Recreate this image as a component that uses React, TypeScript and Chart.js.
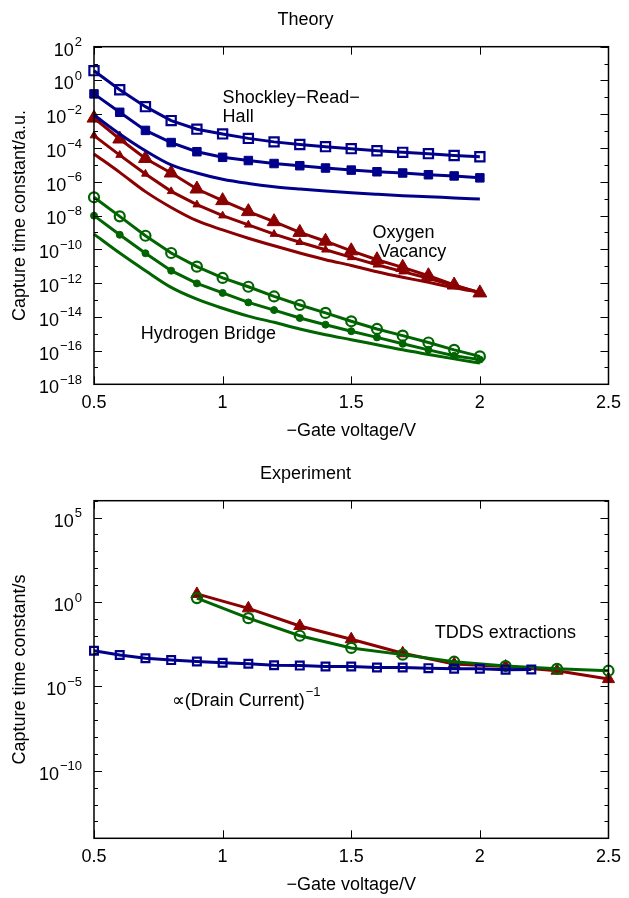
import React, { useEffect, useRef } from 'react';
import { Chart, registerables } from 'chart.js';

Chart.register(...registerables);

// ---------- data ----------
const theoryVolts = [0.5, 0.6, 0.7, 0.8, 0.9, 1.0, 1.1, 1.2, 1.3, 1.4, 1.5, 1.6, 1.7, 1.8, 1.9, 2.0];

// Shockley-Read-Hall
const srhOpen = [3.8e0, 2.8e-1, 2.8e-2, 4.2e-3, 1.3e-3, 6.8e-4, 3.7e-4, 2.3e-4, 1.6e-4, 1.2e-4, 9.1e-5, 6.9e-5, 5.5e-5, 4.6e-5, 3.6e-5, 3.0e-5];
const srhFilled = [1.6e-1, 1.3e-2, 1.1e-3, 2.1e-4, 6.0e-5, 2.8e-5, 1.8e-5, 1.2e-5, 8.9e-6, 6.5e-6, 4.9e-6, 3.9e-6, 3.3e-6, 2.6e-6, 2.2e-6, 1.7e-6];
const srhLine = [8.9e-3, 6.8e-4, 6.9e-5, 1.0e-5, 3.3e-6, 1.4e-6, 7.9e-7, 5.1e-7, 3.7e-7, 2.8e-7, 2.2e-7, 1.8e-7, 1.5e-7, 1.3e-7, 1.1e-7, 9.5e-8];

// Oxygen vacancy
const ovLarge = [5.9e-3, 3.4e-4, 2.4e-5, 3.3e-6, 3.7e-7, 7.6e-8, 1.7e-8, 4.3e-9, 1.0e-9, 3.0e-10, 8.1e-11, 2.4e-11, 8.5e-12, 2.7e-12, 7.6e-13, 2.6e-13];
const ovSmall = [5.4e-4, 3.8e-5, 2.9e-6, 2.7e-7, 4.4e-8, 9.8e-9, 2.8e-9, 7.9e-10, 2.6e-10, 9.3e-11, 3.3e-11, 1.2e-11, 4.7e-12, 1.9e-12, 6.9e-13, 2.8e-13];
const ovLine = [4.4e-5, 3.6e-6, 2.6e-7, 3.0e-8, 4.9e-9, 1.4e-9, 4.5e-10, 1.6e-10, 6.0e-11, 2.4e-11, 1.1e-11, 4.7e-12, 2.2e-12, 1.1e-12, 5.2e-13, 2.8e-13];

// Hydrogen bridge
const hbOpen = [1.2e-7, 8.9e-9, 6.3e-10, 6.0e-11, 9.3e-12, 2.0e-12, 6.0e-13, 1.6e-13, 5.0e-14, 1.7e-14, 5.4e-15, 1.9e-15, 7.6e-16, 3.0e-16, 1.1e-16, 4.5e-17];
const hbSmall = [9.8e-9, 7.2e-10, 5.8e-11, 5.4e-12, 9.5e-13, 2.6e-13, 7.1e-14, 2.5e-14, 8.5e-15, 3.4e-15, 1.4e-15, 6.0e-16, 2.5e-16, 1.1e-16, 4.9e-17, 2.9e-17];
const hbLine = [7.9e-10, 6.0e-11, 5.4e-12, 5.5e-13, 1.1e-13, 3.2e-14, 1.1e-14, 4.7e-15, 1.9e-15, 8.7e-16, 4.4e-16, 2.2e-16, 1.1e-16, 5.9e-17, 3.2e-17, 1.8e-17];

// Experiment
const drainVolts = [0.5, 0.6, 0.7, 0.8, 0.9, 1.0, 1.1, 1.2, 1.3, 1.4, 1.5, 1.6, 1.7, 1.8, 1.9, 2.0, 2.1, 2.2];
const drainInv = [1.3e-3, 7.2e-4, 4.6e-4, 3.6e-4, 3.0e-4, 2.5e-4, 2.2e-4, 1.8e-4, 1.7e-4, 1.5e-4, 1.5e-4, 1.3e-4, 1.3e-4, 1.2e-4, 1.1e-4, 1.1e-4, 9.8e-5, 1.0e-4];
const tddsVolts = [0.9, 1.1, 1.3, 1.5, 1.7, 1.9, 2.1, 2.3, 2.5];
const tddsGreen = [1.7e0, 1.1e-1, 1.0e-2, 1.9e-3, 7.6e-4, 2.9e-4, 1.6e-4, 1.1e-4, 8.5e-5];
const tddsRed = [3.0e0, 4.2e-1, 3.8e-2, 6.2e-3, 9.1e-4, 2.1e-4, 1.5e-4, 8.5e-5, 2.7e-5];

// ticks
const xTickValues = [0.5, 1, 1.5, 2, 2.5];
const theoryDecades = [-18, -17, -16, -15, -14, -13, -12, -11, -10, -9, -8, -7, -6, -5, -4, -3, -2, -1, 0, 1, 2];
const theoryLabelled = [-18, -16, -14, -12, -10, -8, -6, -4, -2, 0, 2];
const expDecades = [-14, -13, -12, -11, -10, -9, -8, -7, -6, -5, -4, -3, -2, -1, 0, 1, 2, 3, 4, 5, 6];
const expLabelled = [-10, -5, 0, 5];

// ---------- style ----------
const BLUE = '#00008b';
const RED = '#8b0000';
const GREEN = '#006400';
const FONT = "'Liberation Sans', Arial, Helvetica, sans-serif";
const NONE = 'rgba(0,0,0,0)';

const expText = (e: number) => String(e).replace('-', '−');
const pts = (xs: number[], ys: number[]) => ys.map((y, i) => ({ x: xs[i], y }));

// draws "base" with a raised exponent; align 'right' puts the right edge at x
function drawPowerText(ctx: any, base: string, sup: string, x: number, y: number, align: 'left' | 'right', supRaise: number) {
  ctx.font = `18px ${FONT}`;
  const w1 = ctx.measureText(base).width;
  ctx.font = `13px ${FONT}`;
  const w2 = ctx.measureText(sup).width;
  const x0 = align === 'right' ? x - w1 - w2 - 1 : x;
  ctx.textAlign = 'left';
  ctx.textBaseline = 'middle';
  ctx.font = `18px ${FONT}`;
  ctx.fillText(base, x0, y);
  ctx.font = `13px ${FONT}`;
  ctx.fillText(sup, x0 + w1 + 1, y - supRaise);
}

const frameTicks = {
  id: 'frameTicks',
  afterDraw(chart: any, _args: any, opts: any) {
    const { ctx, chartArea: a, scales } = chart;
    const xs = scales.x;
    const ys = scales.y;
    const labelled: number[] = opts.labelled || [];
    ctx.save();
    ctx.strokeStyle = '#000';
    ctx.lineWidth = 1;
    ctx.beginPath();
    for (const t of xs.ticks) {
      const px = Math.round(xs.getPixelForValue(t.value)) + 0.5;
      ctx.moveTo(px, a.bottom);
      ctx.lineTo(px, a.bottom - 8);
      ctx.moveTo(px, a.top);
      ctx.lineTo(px, a.top + 8);
    }
    for (const t of ys.ticks) {
      const py = Math.round(ys.getPixelForValue(t.value)) + 0.5;
      const e = Math.round(Math.log10(t.value));
      const len = labelled.includes(e) ? 8 : 4;
      ctx.moveTo(a.left, py);
      ctx.lineTo(a.left + len, py);
      ctx.moveTo(a.right, py);
      ctx.lineTo(a.right - len, py);
    }
    ctx.stroke();
    ctx.lineWidth = 1.5;
    ctx.strokeRect(a.left, a.top, a.right - a.left, a.bottom - a.top);

    ctx.fillStyle = '#000';
    // y tick labels: 10 with superscript exponent
    for (const t of ys.ticks) {
      const e = Math.round(Math.log10(t.value));
      if (!labelled.includes(e)) continue;
      const py = ys.getPixelForValue(t.value);
      drawPowerText(ctx, '10', expText(e), a.left - 12, py + 4, 'right', 8);
    }
    // annotations
    for (const n of opts.notes || []) {
      const px = xs.getPixelForValue(n.x);
      const py = ys.getPixelForValue(n.y);
      if (n.sup) {
        drawPowerText(ctx, n.text, n.sup, px, py, 'left', 9);
      } else {
        ctx.font = `18px ${FONT}`;
        ctx.textBaseline = 'middle';
        ctx.textAlign = 'left';
        ctx.fillText(n.text, px, py);
      }
    }
    ctx.restore();
  },
};

function lineSet(xs: number[], ys: number[], color: string, extra: any = {}) {
  return {
    data: pts(xs, ys),
    borderColor: color,
    backgroundColor: color,
    borderWidth: 3,
    pointRadius: 0,
    pointBorderColor: color,
    pointBackgroundColor: color,
    clip: false,
    ...extra,
  };
}

function buildConfig(p: any) {
  const font = { family: FONT, size: 18, weight: 'normal' as const };
  return {
    type: 'line',
    data: { datasets: p.datasets },
    plugins: [frameTicks],
    options: {
      animation: false,
      responsive: false,
      events: [],
      layout: { padding: { left: 0, right: 18, top: 0, bottom: 0 } },
      plugins: {
        legend: { display: false },
        tooltip: { enabled: false },
        title: { display: true, text: p.title, color: '#000', font, padding: { top: 9, bottom: 16.1 } },
        frameTicks: { notes: p.notes, labelled: p.labelled },
      },
      scales: {
        x: {
          type: 'linear',
          min: 0.5,
          max: 2.5,
          afterBuildTicks: (s: any) => {
            s.ticks = xTickValues.map((v) => ({ value: v }));
          },
          afterFit: (s: any) => {
            s.height = p.xAxisHeight;
          },
          ticks: { color: '#000', font, padding: 8, autoSkip: false, maxRotation: 0, callback: (v: number) => String(v) },
          grid: { display: false, drawTicks: false },
          border: { display: false },
          title: { display: true, text: '−Gate voltage/V', color: '#000', font, padding: { top: 0, bottom: p.xTitlePad } },
        },
        y: {
          type: 'logarithmic',
          min: p.yMin,
          max: p.yMax,
          afterBuildTicks: (s: any) => {
            s.ticks = p.decades.map((e: number) => ({ value: Math.pow(10, e) }));
          },
          afterFit: (s: any) => {
            s.width = 94;
          },
          ticks: { display: false, autoSkip: false },
          grid: { display: false, drawTicks: false },
          border: { display: false },
          title: { display: true, text: p.yTitle, color: '#000', font, padding: { top: 9, bottom: 0 } },
        },
      },
    },
  };
}

const theoryDatasets = [
  lineSet(theoryVolts, srhLine, BLUE, { cubicInterpolationMode: 'monotone' }),
  lineSet(theoryVolts, srhFilled, BLUE, { pointStyle: 'rect', pointRadius: 6, pointBorderWidth: 1 }),
  lineSet(theoryVolts, srhOpen, BLUE, { pointStyle: 'rect', pointRadius: 6.5, pointBorderWidth: 2.2, pointBackgroundColor: NONE }),
  lineSet(theoryVolts, ovLine, RED, { cubicInterpolationMode: 'monotone' }),
  lineSet(theoryVolts, ovSmall, RED, { pointStyle: 'triangle', pointRadius: 4.5, pointBorderWidth: 1 }),
  lineSet(theoryVolts, ovLarge, RED, { pointStyle: 'triangle', pointRadius: 8, pointBorderWidth: 1 }),
  lineSet(theoryVolts, hbLine, GREEN, { cubicInterpolationMode: 'monotone' }),
  lineSet(theoryVolts, hbSmall, GREEN, { pointStyle: 'circle', pointRadius: 3.5, pointBorderWidth: 1 }),
  lineSet(theoryVolts, hbOpen, GREEN, { pointStyle: 'circle', pointRadius: 5, pointBorderWidth: 2.2, pointBackgroundColor: NONE }),
];

const experimentDatasets = [
  lineSet(drainVolts, drainInv, BLUE, { pointStyle: 'rect', pointRadius: 5.5, pointBorderWidth: 2.2, pointBackgroundColor: NONE }),
  lineSet(tddsVolts, tddsGreen, GREEN, { pointStyle: 'circle', pointRadius: 5, pointBorderWidth: 2.2, pointBackgroundColor: NONE }),
  lineSet(tddsVolts, tddsRed, RED, { pointStyle: 'triangle', pointRadius: 7, pointBorderWidth: 1 }),
];

const theoryConfig = buildConfig({
  title: 'Theory',
  yTitle: 'Capture time constant/a.u.',
  yMin: 1e-18,
  yMax: 1e2,
  decades: theoryDecades,
  labelled: theoryLabelled,
  datasets: theoryDatasets,
  xAxisHeight: 69.7,
  xTitlePad: 12.2,
  notes: [
    { text: 'Shockley−Read−', x: 1.0, y: 9e-2 },
    { text: 'Hall', x: 1.0, y: 7e-3 },
    { text: 'Oxygen', x: 1.583, y: 9e-10 },
    { text: 'Vacancy', x: 1.606, y: 7e-11 },
    { text: 'Hydrogen Bridge', x: 0.682, y: 1e-15 },
  ],
});

const experimentConfig = buildConfig({
  title: 'Experiment',
  yTitle: 'Capture time constant/s',
  yMin: 1e-14,
  yMax: 1e6,
  decades: expDecades,
  labelled: expLabelled,
  datasets: experimentDatasets,
  xAxisHeight: 59.7,
  xTitlePad: 2.2,
  notes: [
    { text: 'TDDS extractions', x: 1.825, y: 1.5e-2 },
    { text: '∝(Drain Current)', sup: '−1', x: 0.802, y: 1.3e-6 },
  ],
});

function ChartCanvas({ config, top, height }: { config: any; top: number; height: number }) {
  const ref = useRef<HTMLCanvasElement | null>(null);
  useEffect(() => {
    if (!ref.current) return;
    const chart = new Chart(ref.current, config);
    return () => chart.destroy();
  }, [config]);
  return (
    <canvas
      ref={ref}
      width={629}
      height={height}
      style={{ position: 'absolute', left: 0, top, width: 629, height, display: 'block' }}
    />
  );
}

export default function App() {
  return (
    <div style={{ position: 'absolute', left: 0, top: 0, width: 629, height: 898, overflow: 'hidden', background: '#fff' }}>
      <ChartCanvas config={theoryConfig} top={0} height={454} />
      <ChartCanvas config={experimentConfig} top={454} height={444} />
    </div>
  );
}
